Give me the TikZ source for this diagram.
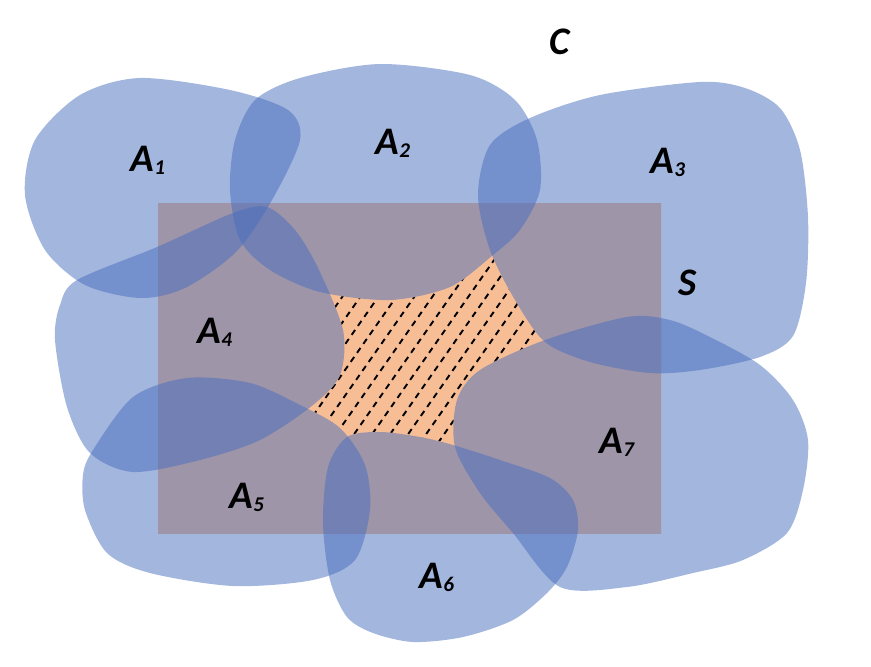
\documentclass[tikz,border=0pt]{standalone}
\usepackage{fontspec}
\setmainfont{Carlito}
\definecolor{cblue}{RGB}{71,109,189}
\definecolor{corange}{RGB}{247,190,150}
\newcommand\lsub[1]{\raisebox{-3pt}{\fontsize{21}{21}\selectfont #1}}
\tikzset{
  cblob/.style={fill=cblue, fill opacity=0.5},
  cfree/.style={fill=corange},
  chatch/.style={black, line width=1.9pt, dash pattern=on 6pt off 5pt},
  clbl/.style={font=\fontsize{39}{39}\selectfont\bfseries\itshape, inner sep=0pt},
  reg1/.style={insert path={plot[smooth cycle] coordinates {(140,78) (230,90) (288,110) (300,140) (272,200) (236,252) (185,288) (140,298) (85,285) (45,250) (25,195) (35,140) (80,95)}}},
  reg2/.style={insert path={plot[smooth cycle] coordinates {(380,64) (470,75) (515,100) (537,140) (540,190) (520,230) (493,255) (450,287) (390,300) (320,292) (270,270) (240,240) (230,190) (235,140) (255,100) (300,78)}}},
  reg3/.style={insert path={plot[smooth cycle] coordinates {(530,118) (600,95) (700,82) (745,88) (780,108) (800,150) (808,217) (806,283) (793,336) (760,357) (700,370) (650,373) (590,362) (545,342) (515,300) (490,250) (478,195) (490,145)}}},
  reg4/.style={insert path={plot[smooth cycle] coordinates {(77,280) (157,247) (233,213) (267,207) (295,230) (318,268) (343,330) (340,375) (313,405) (260,440) (200,460) (133,472) (90,453) (67,407) (55,340) (60,305)}}},
  reg5/.style={insert path={plot[smooth cycle] coordinates {(93,450) (133,397) (187,378) (250,383) (300,405) (340,428) (365,465) (370,510) (355,560) (313,580) (233,586) (150,573) (107,553) (85,510) (83,475)}}},
  reg6/.style={insert path={plot[smooth cycle] coordinates {(347,437) (380,432) (420,437) (453,445) (500,460) (550,478) (573,500) (578,530) (567,567) (547,593) (513,620) (463,637) (413,642) (373,633) (347,617) (330,580) (323,523) (328,467)}}},
  reg7/.style={insert path={plot[smooth cycle] coordinates {(545,340) (627,317) (670,320) (710,337) (760,365) (793,400) (808,440) (803,490) (787,533) (743,560) (693,573) (627,587) (560,587) (513,533) (480,493) (455,447) (457,400) (480,370)}}},
}
\begin{document}
\begin{tikzpicture}[x=1pt,y=-1pt]
  \useasboundingbox (0,0) rectangle (871,667);

  % S und freier Teil
  \fill[cfree] (158,203) rectangle (661,533);
  \begin{scope}
    \clip (158,203) rectangle (661,533);
    \foreach \x in {203,221,...,473}
      \draw[chatch] (\x,470) -- ++(180,-257);
    \foreach \r in {1,...,7}
      \fill[cfree, reg\r];
  \end{scope}

  % Mengen A_i
  \foreach \r in {1,...,7}
    \fill[cblob, reg\r];

  % Beschriftung
  \node[clbl] (lA1) at (148,160) {A\lsub{1}};
  \node[clbl] (lA2) at (393,143) {A\lsub{2}};
  \node[clbl] (lA3) at (668,162) {A\lsub{3}};
  \node[clbl] (lA4) at (215,332) {A\lsub{4}};
  \node[clbl] (lA5) at (247,497) {A\lsub{5}};
  \node[clbl] (lA6) at (437,577) {A\lsub{6}};
  \node[clbl] (lA7) at (617,442) {A\lsub{7}};
  \node[clbl] (lC) at (560,42) {C};
  \node[clbl] (lS) at (688,283) {S};
\end{tikzpicture}
\end{document}
